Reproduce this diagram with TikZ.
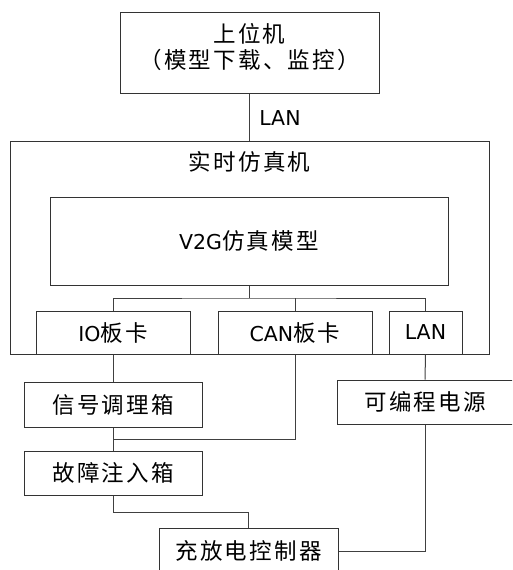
\documentclass[tikz,border=0pt]{standalone}
\usepackage{fontspec}
\setmainfont{DejaVu Sans}
\newfontfamily\cjk[LetterSpace=10]{Noto Sans CJK SC}
\newcommand{\zh}[1]{{\cjk\fontsize{22.5}{26}\selectfont #1}}
\begin{document}
\begin{tikzpicture}[x=1pt,y=-1pt,
  box/.style={draw=black!80,line width=1pt,rectangle,inner sep=0pt,font=\fontsize{20.5}{26}\selectfont},
  conn/.style={draw=black!75,line width=1pt}]
\useasboundingbox (0,0) rectangle (512,570);
\clip (0,0) rectangle (512,570);
% boxes
\node[box,minimum width=259pt,minimum height=81pt] (pc) at (249.5,52.5) {};
\node[align=center,inner sep=0pt,font=\fontsize{20}{26.5}\selectfont] (pctext) at (249.5,47) {\zh{上位机}\\\zh{（模型下载、监控）}};
\node[box,minimum width=479pt,minimum height=213pt] (rt) at (249.5,247.5) {};
\node[inner sep=0pt] (rttitle) at (249.5,162) {\zh{实时仿真机}};
\node[inner sep=0pt,font=\fontsize{20.5}{24}\selectfont] (lanlbl) at (280,118) {LAN};
\node[box,minimum width=398pt,minimum height=88pt] (v2g) at (249,241) {V2G\zh{仿真模型}};
\node[box,fill=white,minimum width=154pt,minimum height=43pt] (io) at (113,332.5) {IO\zh{板卡}};
\node[box,fill=white,minimum width=154pt,minimum height=43pt] (can) at (295,332.5) {CAN\zh{板卡}};
\node[box,fill=white,minimum width=73pt,minimum height=43pt] (lan) at (425.5,332.5) {LAN};
\node[box,minimum width=178pt,minimum height=45pt] (sig) at (113,404.5) {\zh{信号调理箱}};
\node[box,minimum width=178pt,minimum height=44pt] (fault) at (113,473) {\zh{故障注入箱}};
\node[box,minimum width=176pt,minimum height=44pt] (psu) at (425,402) {\zh{可编程电源}};
\node[box,minimum width=179pt,minimum height=46pt] (chg) at (248.5,551) {\zh{充放电控制器}};
% coordinates
\coordinate (bus) at (249,298);
\coordinate (j1) at (113,439);
\coordinate (j2) at (113,512);
% connectors
\draw[conn] (pc.south) -- (rt.north);
\draw[conn] (v2g.south) -- (bus);
\draw[conn] (io.north) |- (bus) -| (lan.north);
\draw[conn] (can.north) -- (can.north|-bus);
\draw[conn] (io.south) -- (sig.north);
\draw[conn] (sig.south) -- (fault.north);
\draw[conn] (can.south) |- (j1);
\draw[conn] (fault.south) -- (j2) -| (chg.north);
\draw[conn] (lan.south) -- (psu.north);
\draw[conn] (psu.south) |- (chg.east);
\end{tikzpicture}
\end{document}
